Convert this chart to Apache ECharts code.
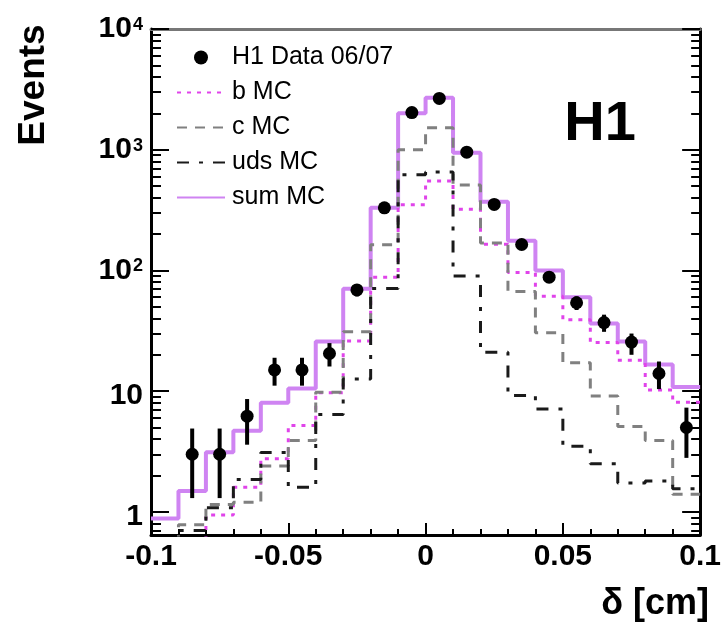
<!DOCTYPE html>
<html>
<head>
<meta charset="utf-8">
<script src="https://cdn.jsdelivr.net/npm/echarts@6/dist/echarts.min.js"></script>
<style>
html,body{margin:0;padding:0;background:#fff;}
#chart{width:724px;height:623px;}
</style>
</head>
<body>
<div id="chart"></div>
<script>
// ---- data ----
const binEdges = [-0.1,-0.09,-0.08,-0.07,-0.06,-0.05,-0.04,-0.03,-0.02,-0.01,0,0.01,0.02,0.03,0.04,0.05,0.06,0.07,0.08,0.09,0.1];
const sumMC = [0.88,1.49,3.11,4.69,8.0,10.5,25.8,70.6,331,2000,2690,945,370,176,100,60,36.4,25.8,16.6,10.8];
const bMC   = [0.3,0.3,0.94,1.6,2.75,5.2,9.7,26,88,350,550,321,165,96,61,39,25.3,18,10.2,8.1];
const cMC   = [0.45,0.78,1.15,1.2,2.4,3.9,9.8,31,163,1000,1520,510,169,67,30.5,17.2,9.1,5.1,3.9,1.4];
const udsMC = [0.4,0.7,1.08,1.85,3.1,1.6,6.4,12.6,71,621,655,90,21,9.2,7.1,3.5,2.5,1.73,1.8,1.55];

const dataX  = [-0.085,-0.075,-0.065,-0.055,-0.045,-0.035,-0.025,-0.015,-0.005,0.005,0.015,0.025,0.035,0.045,0.055,0.065,0.075,0.085,0.095];
const dataY  = [3.0,3.0,6.2,15,15,20.5,69,330,2030,2660,955,352,164,88,54,37,25.5,14,5];
const errLow = [1.3,1.3,3.6,11.1,11.1,16,61,312,1985,2610,925,333,151,79,47,31,20,10.4,2.8];
const errHigh= [4.9,4.9,8.6,18.9,18.9,25,77,348,2075,2710,985,371,177,97,61,43,30,17.6,7.3];

const xTickVals   = [-0.1,-0.05,0,0.05,0.1];
const xTickLabels = ['-0.1','-0.05','0','0.05','0.1'];
const yTickVals   = [1,10,100,1000,10000];
const yTickLabels = ['1','10','10^2','10^3','10^4'];
const yMinorVals  = [0.7,0.8,0.9,2,3,4,5,6,7,8,9,20,30,40,50,60,70,80,90,200,300,400,500,600,700,800,900,2000,3000,4000,5000,6000,7000,8000,9000];
const yRange = [0.643, 10000];

// ---- build ----
const FONT = "'Liberation Sans', Arial, Helvetica, sans-serif";
const L = v => Math.log10(v);
const yMin = L(yRange[0]), yMax = L(yRange[1]);
const yMajLog = yTickVals.map(L);
const yMinLog = yMinorVals.map(L);

function stepData(arr){
  return binEdges.map((e,i)=>[e, L(arr[Math.min(i, arr.length-1)])]);
}
function yLabel(v){
  const i = yMajLog.findIndex(t => Math.abs(t - v) < 1e-6);
  if (i < 0) return '';
  const parts = yTickLabels[i].split('^');
  if (parts.length === 2) return '{p|' + parts[0] + '}{s|' + parts[1] + '}';
  return '{a|' + parts[0] + '}';
}
function xLabel(v){
  const i = xTickVals.findIndex(t => Math.abs(t - v) < 1e-9);
  return i < 0 ? '' : xTickLabels[i];
}

const baseY = {type:'value', min:yMin, max:yMax, splitLine:{show:false}, axisLine:{show:false, onZero:false}, axisLabel:{show:false}, axisTick:{show:false}};
const baseX = {type:'value', min:-0.1, max:0.1, splitLine:{show:false}, axisLine:{show:false, onZero:false}, axisLabel:{show:false}, axisTick:{show:false}};

const hideSym = {opacity:0, borderWidth:0};

const chart = echarts.init(document.getElementById('chart'));
chart.setOption({
  animation:false,
  backgroundColor:'#fff',
  grid:{left:151, right:21, top:25, bottom:88},
  xAxis:[
    Object.assign({}, baseX, {position:'bottom',
      axisLine:{show:true, onZero:false, lineStyle:{color:'#000', width:3}},
      axisTick:{show:true, inside:true, length:12, customValues:xTickVals, lineStyle:{color:'#000', width:2}},
      axisLabel:{show:true, customValues:xTickVals, formatter:xLabel, fontSize:30, fontWeight:'bold', fontFamily:FONT, color:'#000', margin:7, showMinLabel:true, showMaxLabel:true}}),
    Object.assign({}, baseX, {position:'bottom',
      axisTick:{show:true, inside:true, length:6, customValues:binEdges, lineStyle:{color:'#000', width:2}}}),
    Object.assign({}, baseX, {position:'top',
      axisLine:{show:true, onZero:false, lineStyle:{color:'#777', width:3}}})
  ],
  yAxis:[
    Object.assign({}, baseY, {position:'left',
      axisLine:{show:true, onZero:false, lineStyle:{color:'#000', width:3}},
      axisTick:{show:true, inside:true, length:18, customValues:yMajLog, lineStyle:{color:'#000', width:2}},
      axisLabel:{show:true, customValues:yMajLog, formatter:yLabel, margin:8, showMinLabel:true, showMaxLabel:true,
        rich:{
          a:{fontSize:30, fontWeight:'bold', fontFamily:FONT, color:'#000', lineHeight:30, padding:[10,0,0,0]},
          p:{fontSize:30, fontWeight:'bold', fontFamily:FONT, color:'#000', lineHeight:30, verticalAlign:'bottom', padding:[14,0,0,0]},
          s:{fontSize:18, fontWeight:'bold', fontFamily:FONT, color:'#000', lineHeight:18, verticalAlign:'top', padding:[2,0,0,1]}
        }}}),
    Object.assign({}, baseY, {position:'left',
      axisTick:{show:true, inside:true, length:10, customValues:yMinLog, lineStyle:{color:'#000', width:2}}}),
    Object.assign({}, baseY, {position:'right',
      axisLine:{show:true, onZero:false, lineStyle:{color:'#000', width:3}},
      axisTick:{show:true, inside:true, length:18, customValues:yMajLog, lineStyle:{color:'#000', width:2}}}),
    Object.assign({}, baseY, {position:'right',
      axisTick:{show:true, inside:true, length:9, customValues:yMinLog, lineStyle:{color:'#000', width:2}}})
  ],
  legend:{
    orient:'vertical', left:176, top:45, padding:0, itemWidth:48, itemHeight:14, itemGap:10,
    textStyle:{fontSize:25, fontFamily:FONT, color:'#000', lineHeight:25, padding:[0,0,0,2]},
    data:[
      {name:'H1 Data 06/07'},
      {name:'b MC', itemStyle:hideSym},
      {name:'c MC', itemStyle:hideSym},
      {name:'uds MC', itemStyle:hideSym},
      {name:'sum MC', itemStyle:hideSym}
    ]
  },
  graphic:[
    {type:'text', x:34, y:85, rotation:Math.PI/2, style:{text:'Events', fontSize:37, fontWeight:'bold', fontFamily:FONT, fill:'#000', align:'center', verticalAlign:'middle'}},
    {type:'text', x:709, y:604, style:{text:'δ [cm]', fontSize:36, fontWeight:'bold', fontFamily:FONT, fill:'#000', align:'right', verticalAlign:'middle'}},
    {type:'text', x:600, y:125, style:{text:'H1', fontSize:56, fontWeight:'bold', fontFamily:FONT, fill:'#000', align:'center', verticalAlign:'middle'}}
  ],
  series:[
    {name:'sum MC', type:'line', step:'end', symbol:'none', data:stepData(sumMC), z:2,
     lineStyle:{color:'#cf84f2', width:4}, itemStyle:{color:'#cf84f2'}},
    {name:'b MC', type:'line', step:'end', symbol:'none', data:stepData(bMC), z:3,
     lineStyle:{color:'#e044ea', width:3, type:[4,6]}, itemStyle:{color:'#e044ea'}},
    {name:'c MC', type:'line', step:'end', symbol:'none', data:stepData(cMC), z:3,
     lineStyle:{color:'#808080', width:3, type:[10,8]}, itemStyle:{color:'#808080'}},
    {name:'uds MC', type:'line', step:'end', symbol:'none', data:stepData(udsMC), z:3,
     lineStyle:{color:'#1a1a1a', width:3, type:[12,10,4,10]}, itemStyle:{color:'#1a1a1a'}},
    {type:'custom', z:4, silent:true,
     data:dataX.map((x,i)=>[x, L(errLow[i]), L(errHigh[i])]),
     encode:{x:0, y:[1,2]},
     renderItem:function(params, api){
       const p1 = api.coord([api.value(0), api.value(1)]);
       const p2 = api.coord([api.value(0), api.value(2)]);
       return {type:'line', shape:{x1:p1[0], y1:p1[1], x2:p2[0], y2:p2[1]}, style:{stroke:'#000', lineWidth:4}};
     }},
    {name:'H1 Data 06/07', type:'scatter', symbol:'circle', symbolSize:13, z:5,
     data:dataX.map((x,i)=>[x, L(dataY[i])]), itemStyle:{color:'#000', opacity:1}}
  ]
});
</script>
</body>
</html>
